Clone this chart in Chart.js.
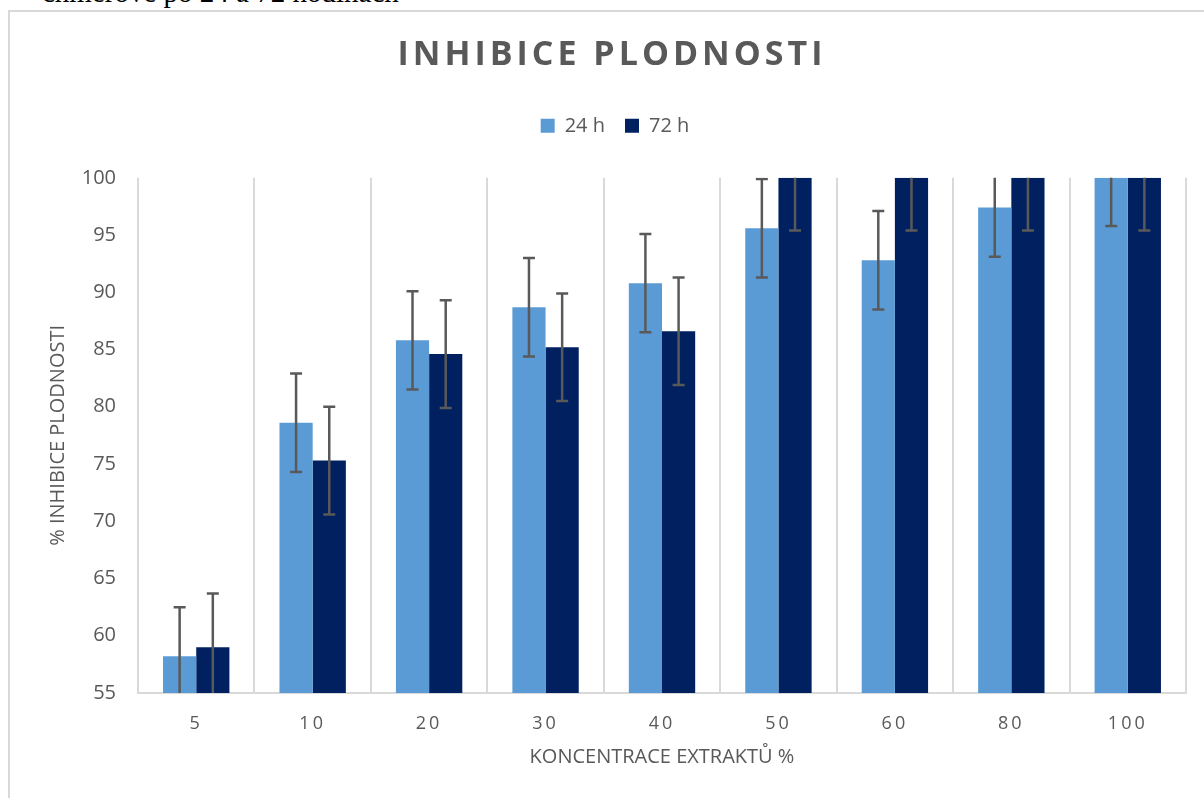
<!DOCTYPE html>
<html>
<head>
<meta charset="utf-8">
<script src="https://cdn.jsdelivr.net/npm/chart.js@4"></script>
<style>
  html, body { margin: 0; padding: 0; background: #fff; overflow: hidden; }
  body { width: 1204px; height: 798px; position: relative; }
  .doc-text {
    position: absolute; left: 42px; top: -22px;
    font-family: "Liberation Serif", serif; font-size: 29px; line-height: 29px;
    color: #000; white-space: nowrap;
  }
  .frame {
    position: absolute; left: 8px; top: 10px; width: 1196px; height: 788px;
    border-left: 2px solid #d9d9d9; border-top: 2px solid #d9d9d9;
  }
  #chart { display: block; }
</style>
</head>
<body>
<div class="doc-text">chmerové po 24 a 72 hodinách</div>
<div class="frame">
  <canvas id="chart" width="1194" height="786"></canvas>
</div>
<script>
// data
const categories = ['5', '10', '20', '30', '40', '50', '60', '80', '100'];
const values24 = [58.2, 78.6, 85.8, 88.7, 90.8, 95.6, 92.8, 97.4, 100];
const values72 = [59.0, 75.3, 84.6, 85.2, 86.6, 100, 100, 100, 100];
const errors24 = [4.3, 4.3, 4.3, 4.3, 4.3, 4.3, 4.3, 4.3, 4.2];
const errors72 = [4.7, 4.7, 4.7, 4.7, 4.7, 4.6, 4.6, 4.6, 4.6];
const yTicks = [55, 60, 65, 70, 75, 80, 85, 90, 95, 100];

const grey = '#595959';
const font = '"Open Sans", "Noto Sans", sans-serif';

// error bars, drawn from the bar scales and clipped to the plot
const errorBars = {
    id: 'errorBars',
    afterDatasetsDraw(chart) {
        const ctx = chart.ctx;
        const area = chart.chartArea;
        const yScale = chart.scales.y;
        const errs = [errors24, errors72];
        ctx.save();
        ctx.beginPath();
        ctx.rect(area.left, area.top, area.right - area.left, area.bottom - area.top);
        ctx.clip();
        ctx.strokeStyle = grey;
        ctx.lineWidth = 2.5;
        chart.data.datasets.forEach((ds, d) => {
            const meta = chart.getDatasetMeta(d);
            meta.data.forEach((bar, i) => {
                const v = ds.data[i];
                const e = errs[d][i];
                const yTop = yScale.getPixelForValue(v + e);
                const yBot = yScale.getPixelForValue(v - e);
                ctx.beginPath();
                ctx.moveTo(bar.x, yTop);
                ctx.lineTo(bar.x, yBot);
                ctx.moveTo(bar.x - 6, yTop);
                ctx.lineTo(bar.x + 6, yTop);
                ctx.moveTo(bar.x - 6, yBot);
                ctx.lineTo(bar.x + 6, yBot);
                ctx.stroke();
            });
        });
        ctx.restore();
    }
};

// spaced title drawn over the reserved (transparent) title box
const spacedTitle = {
    id: 'spacedTitle',
    afterDraw(chart) {
        const tb = chart.titleBlock;
        const ctx = chart.ctx;
        ctx.save();
        ctx.font = 'bold 34px ' + font;
        ctx.letterSpacing = '4px';
        ctx.fillStyle = grey;
        ctx.textAlign = 'center';
        ctx.textBaseline = 'middle';
        ctx.fillText('INHIBICE PLODNOSTI', (tb.left + tb.right) / 2 - 3, (tb.top + tb.bottom) / 2 + 1);
        ctx.restore();
    }
};

// wider spacing for the x tick digits, extra gap under the legend
const tweaks = {
    id: 'tweaks',
    afterInit(chart) {
        const legend = chart.legend;
        const fit = legend.fit.bind(legend);
        legend.fit = function () {
            fit();
            this.height += 32;
        };
    },
    beforeDraw(chart) {
        const x = chart.scales.x;
        if (x._spaced) return;
        const orig = x.drawLabels.bind(x);
        x.drawLabels = function (area) {
            chart.ctx.save();
            chart.ctx.letterSpacing = '3px';
            orig(area);
            chart.ctx.restore();
        };
        x._spaced = true;
    }
};

const ctx = document.getElementById('chart').getContext('2d');
const chart = new Chart(ctx, {
    type: 'bar',
    data: {
        labels: categories,
        datasets: [
            { label: '24 h', data: values24, backgroundColor: '#5b9bd5' },
            { label: '72 h', data: values72, backgroundColor: '#002060' }
        ]
    },
    options: {
        responsive: false,
        animation: false,
        layout: { padding: { left: 16, right: 0, top: 0, bottom: 25 } },
        datasets: {
            bar: { barPercentage: 1, categoryPercentage: 0.57 }
        },
        scales: {
            x: {
                grid: { display: true, offset: true, color: '#d9d9d9', lineWidth: 2, drawTicks: false },
                border: { display: true, color: '#d9d9d9', width: 2 },
                ticks: { color: grey, font: { family: font, size: 18 }, padding: 20 },
                title: { display: true, text: 'KONCENTRACE EXTRAKTŮ %', color: grey, font: { family: font, size: 20 }, padding: { top: 10 } },
                afterFit(scale) { scale.height = 80; }
            },
            y: {
                min: 55,
                max: 100,
                afterBuildTicks(scale) { scale.ticks = yTicks.map(v => ({ value: v })); },
                grid: { display: false, drawTicks: false },
                border: { display: false },
                ticks: { color: grey, font: { family: font, size: 20 }, padding: 22 },
                title: { display: true, text: '% INHIBICE PLODNOSTI', color: grey, font: { family: font, size: 20 }, padding: { top: 20, bottom: 10 } },
                afterFit(scale) { scale.width = 112; }
            },
            yRight: {
                position: 'right',
                grid: { display: false, drawTicks: false },
                border: { display: false },
                ticks: { display: false },
                afterFit(scale) { scale.width = 18; }
            }
        },
        plugins: {
            title: {
                display: true,
                text: 'INHIBICE PLODNOSTI',
                color: 'rgba(0,0,0,0)',
                font: { family: font, size: 34, weight: 'bold' },
                padding: { top: 29, bottom: 14 }
            },
            legend: {
                position: 'top',
                labels: {
                    color: grey,
                    font: { family: font, size: 20 },
                    boxWidth: 14,
                    boxHeight: 14,
                    padding: 20
                }
            },
            tooltip: { enabled: false }
        }
    },
    plugins: [errorBars, spacedTitle, tweaks]
});
</script>
</body>
</html>
